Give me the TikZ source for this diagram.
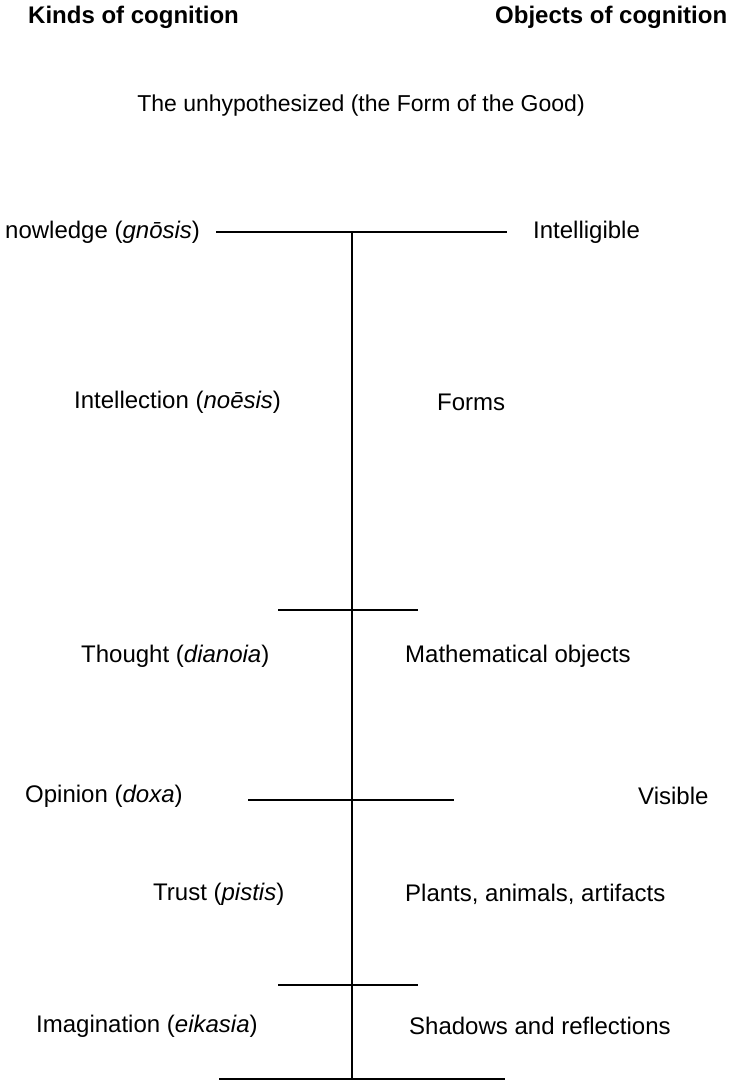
\documentclass[tikz,border=0pt]{standalone}
\usepackage{fontspec}
\setmainfont{Liberation Sans}
\begin{document}
\begin{tikzpicture}[x=1pt,y=-1pt,
  lbl/.style={anchor=west,inner sep=0pt,font=\fontsize{24}{28}\selectfont},
  hdr/.style={anchor=west,inner sep=0pt,font=\fontsize{24}{28}\selectfont\bfseries},
  rule/.style={line width=1.5pt}]
\useasboundingbox (0,0) rectangle (729,1082);
% headers
\node[hdr] (h1) at (28,17) {Kinds of cognition};
\node[hdr] (h2) at (495,17) {Objects of cognition};
\node[lbl,anchor=center,font=\fontsize{23}{28}\selectfont] (good) at (361,106) {The unhypothesized (the Form of the Good)};
% structure coordinates
\coordinate (t1) at (216,232); \coordinate (t2) at (507,232); \coordinate (tc) at (352,232);
\coordinate (m1) at (278,610); \coordinate (m2) at (418,610);
\coordinate (o1) at (248,800); \coordinate (o2) at (454,800);
\coordinate (s1) at (278,985); \coordinate (s2) at (418,985);
\coordinate (b1) at (219,1079); \coordinate (b2) at (505,1079); \coordinate (bc) at (352,1079);
\draw[rule] (t1) -- (t2);
\draw[rule] (tc) -- (bc);
\draw[rule] (m1) -- (m2);
\draw[rule] (o1) -- (o2);
\draw[rule] (s1) -- (s2);
\draw[rule] (b1) -- (b2);
% left labels
\node[lbl] (gn) at (5,232) {nowledge (\textit{gnōsis})};
\node[lbl] (no) at (74,402) {Intellection (\textit{noēsis})};
\node[lbl] (di) at (81,656) {Thought (\textit{dianoia})};
\node[lbl] (dx) at (25,796) {Opinion (\textit{doxa})};
\node[lbl] (pi) at (153,894) {Trust (\textit{pistis})};
\node[lbl] (ei) at (36,1026) {Imagination (\textit{eikasia})};
% right labels
\node[lbl] (in) at (533,232) {Intelligible};
\node[lbl] (fo) at (437,402) {Forms};
\node[lbl] (ma) at (405,656) {Mathematical objects};
\node[lbl] (vi) at (638,796) {Visible};
\node[lbl] (pl) at (405,894) {Plants, animals, artifacts};
\node[lbl] (sh) at (409,1026) {Shadows and reflections};
\end{tikzpicture}
\end{document}
